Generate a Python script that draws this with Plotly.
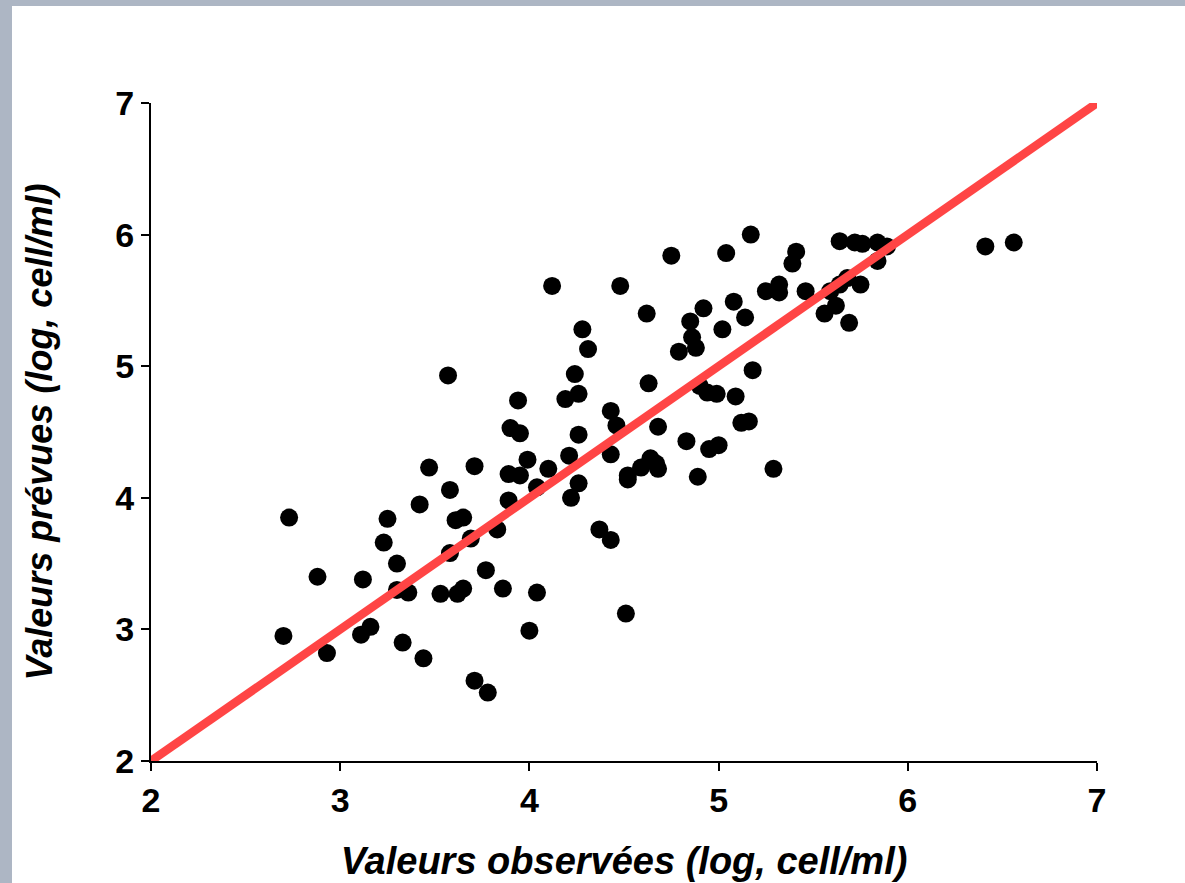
import plotly.graph_objects as go

observed = [2.70, 2.73, 2.88, 2.93, 3.12, 3.11, 3.16, 3.23, 3.25, 3.30, 3.30, 3.36, 3.33, 3.42, 3.47,
            3.44, 3.57, 3.58, 3.58, 3.53, 3.61, 3.65, 3.62, 3.65, 3.69, 3.71, 3.71, 3.78, 3.77, 3.83,
            3.86, 3.89, 3.90, 3.89, 3.94, 3.95, 3.95, 3.99, 4.00, 4.04, 4.04, 4.10, 4.12, 4.19, 4.21,
            4.22, 4.24, 4.26, 4.26, 4.26, 4.28, 4.31, 4.37, 4.43, 4.43, 4.43, 4.46, 4.48, 4.52, 4.52,
            4.51, 4.59, 4.62, 4.63, 4.64, 4.67, 4.68, 4.68, 4.75, 4.79, 4.83, 4.85, 4.86, 4.88, 4.90,
            4.89, 4.92, 4.95, 4.94, 4.99, 5.00, 5.02, 5.04, 5.08, 5.09, 5.12, 5.14, 5.17, 5.16, 5.18,
            5.25, 5.29, 5.32, 5.32, 5.39, 5.41, 5.46, 5.56, 5.59, 5.62, 5.64, 5.64, 5.68, 5.69, 5.72,
            5.76, 5.75, 5.84, 5.84, 5.89, 6.41, 6.56]
predicted = [2.95, 3.85, 3.40, 2.82, 3.38, 2.96, 3.02, 3.66, 3.84, 3.50, 3.30, 3.28, 2.90, 3.95, 4.23,
             2.78, 4.93, 4.06, 3.58, 3.27, 3.83, 3.85, 3.27, 3.31, 3.69, 4.24, 2.61, 2.52, 3.45, 3.76,
             3.31, 3.98, 4.53, 4.18, 4.74, 4.49, 4.17, 4.29, 2.99, 3.28, 4.08, 4.22, 5.61, 4.75, 4.32,
             4.00, 4.94, 4.79, 4.48, 4.11, 5.28, 5.13, 3.76, 3.68, 4.66, 4.33, 4.55, 5.61, 4.17, 4.14,
             3.12, 4.23, 5.40, 4.87, 4.30, 4.26, 4.54, 4.22, 5.84, 5.11, 4.43, 5.34, 5.22, 5.14, 4.85,
             4.16, 5.44, 4.37, 4.80, 4.79, 4.40, 5.28, 5.86, 5.49, 4.77, 4.57, 5.37, 6.00, 4.58, 4.97,
             5.57, 4.22, 5.62, 5.56, 5.78, 5.87, 5.57, 5.40, 5.57, 5.46, 5.62, 5.95, 5.67, 5.33, 5.94,
             5.93, 5.62, 5.80, 5.94, 5.91, 5.91, 5.94]

line_x = [2, 7]
line_y = [2, 7]
ticks = [2, 3, 4, 5, 6, 7]

fig = go.Figure()
fig.add_trace(go.Scatter(x=observed, y=predicted, mode="markers",
                         marker=dict(color="black", size=18, line=dict(width=0)),
                         showlegend=False, cliponaxis=False))
fig.add_trace(go.Scatter(x=line_x, y=line_y, mode="lines",
                         line=dict(color="#ff4545", width=8.5),
                         showlegend=False, cliponaxis=False))

W, H = 1185, 883
L, R, T, B = 151, 88, 103, 122
pw, ph = W - L - R, H - T - B

def px2paper_x(px):
    return (px - L) / pw

def px2paper_y(py):
    return (H - B - py) / ph

fig.add_shape(type="rect", xref="paper", yref="paper",
              x0=px2paper_x(12), x1=px2paper_x(W + 5),
              y0=px2paper_y(H + 5), y1=px2paper_y(6),
              fillcolor="white", line=dict(width=0), layer="below")

axis_common = dict(range=[2, 7], tickvals=ticks, ticks="outside", ticklen=8, tickwidth=2,
                   tickcolor="black", showline=True, linecolor="black", linewidth=2,
                   showgrid=False, zeroline=False, automargin=False,
                   tickfont=dict(family="Liberation Sans", size=34, color="black", weight="bold"))

fig.update_layout(
    width=W, height=H,
    margin=dict(l=L, r=R, t=T, b=B),
    paper_bgcolor="#adb6c4",
    plot_bgcolor="rgba(0,0,0,0)",
    xaxis=dict(**axis_common,
               title=dict(text="<b><i>Valeurs observées (log, cell/ml)</i></b>", standoff=30,
                          font=dict(family="Liberation Sans", size=38, color="black"))),
    yaxis=dict(**axis_common,
               title=dict(text="<b><i>Valeurs prévues (log, cell/ml)</i></b>", standoff=52,
                          font=dict(family="Liberation Sans", size=36, color="black"))),
)

fig.write_html("out.html")
